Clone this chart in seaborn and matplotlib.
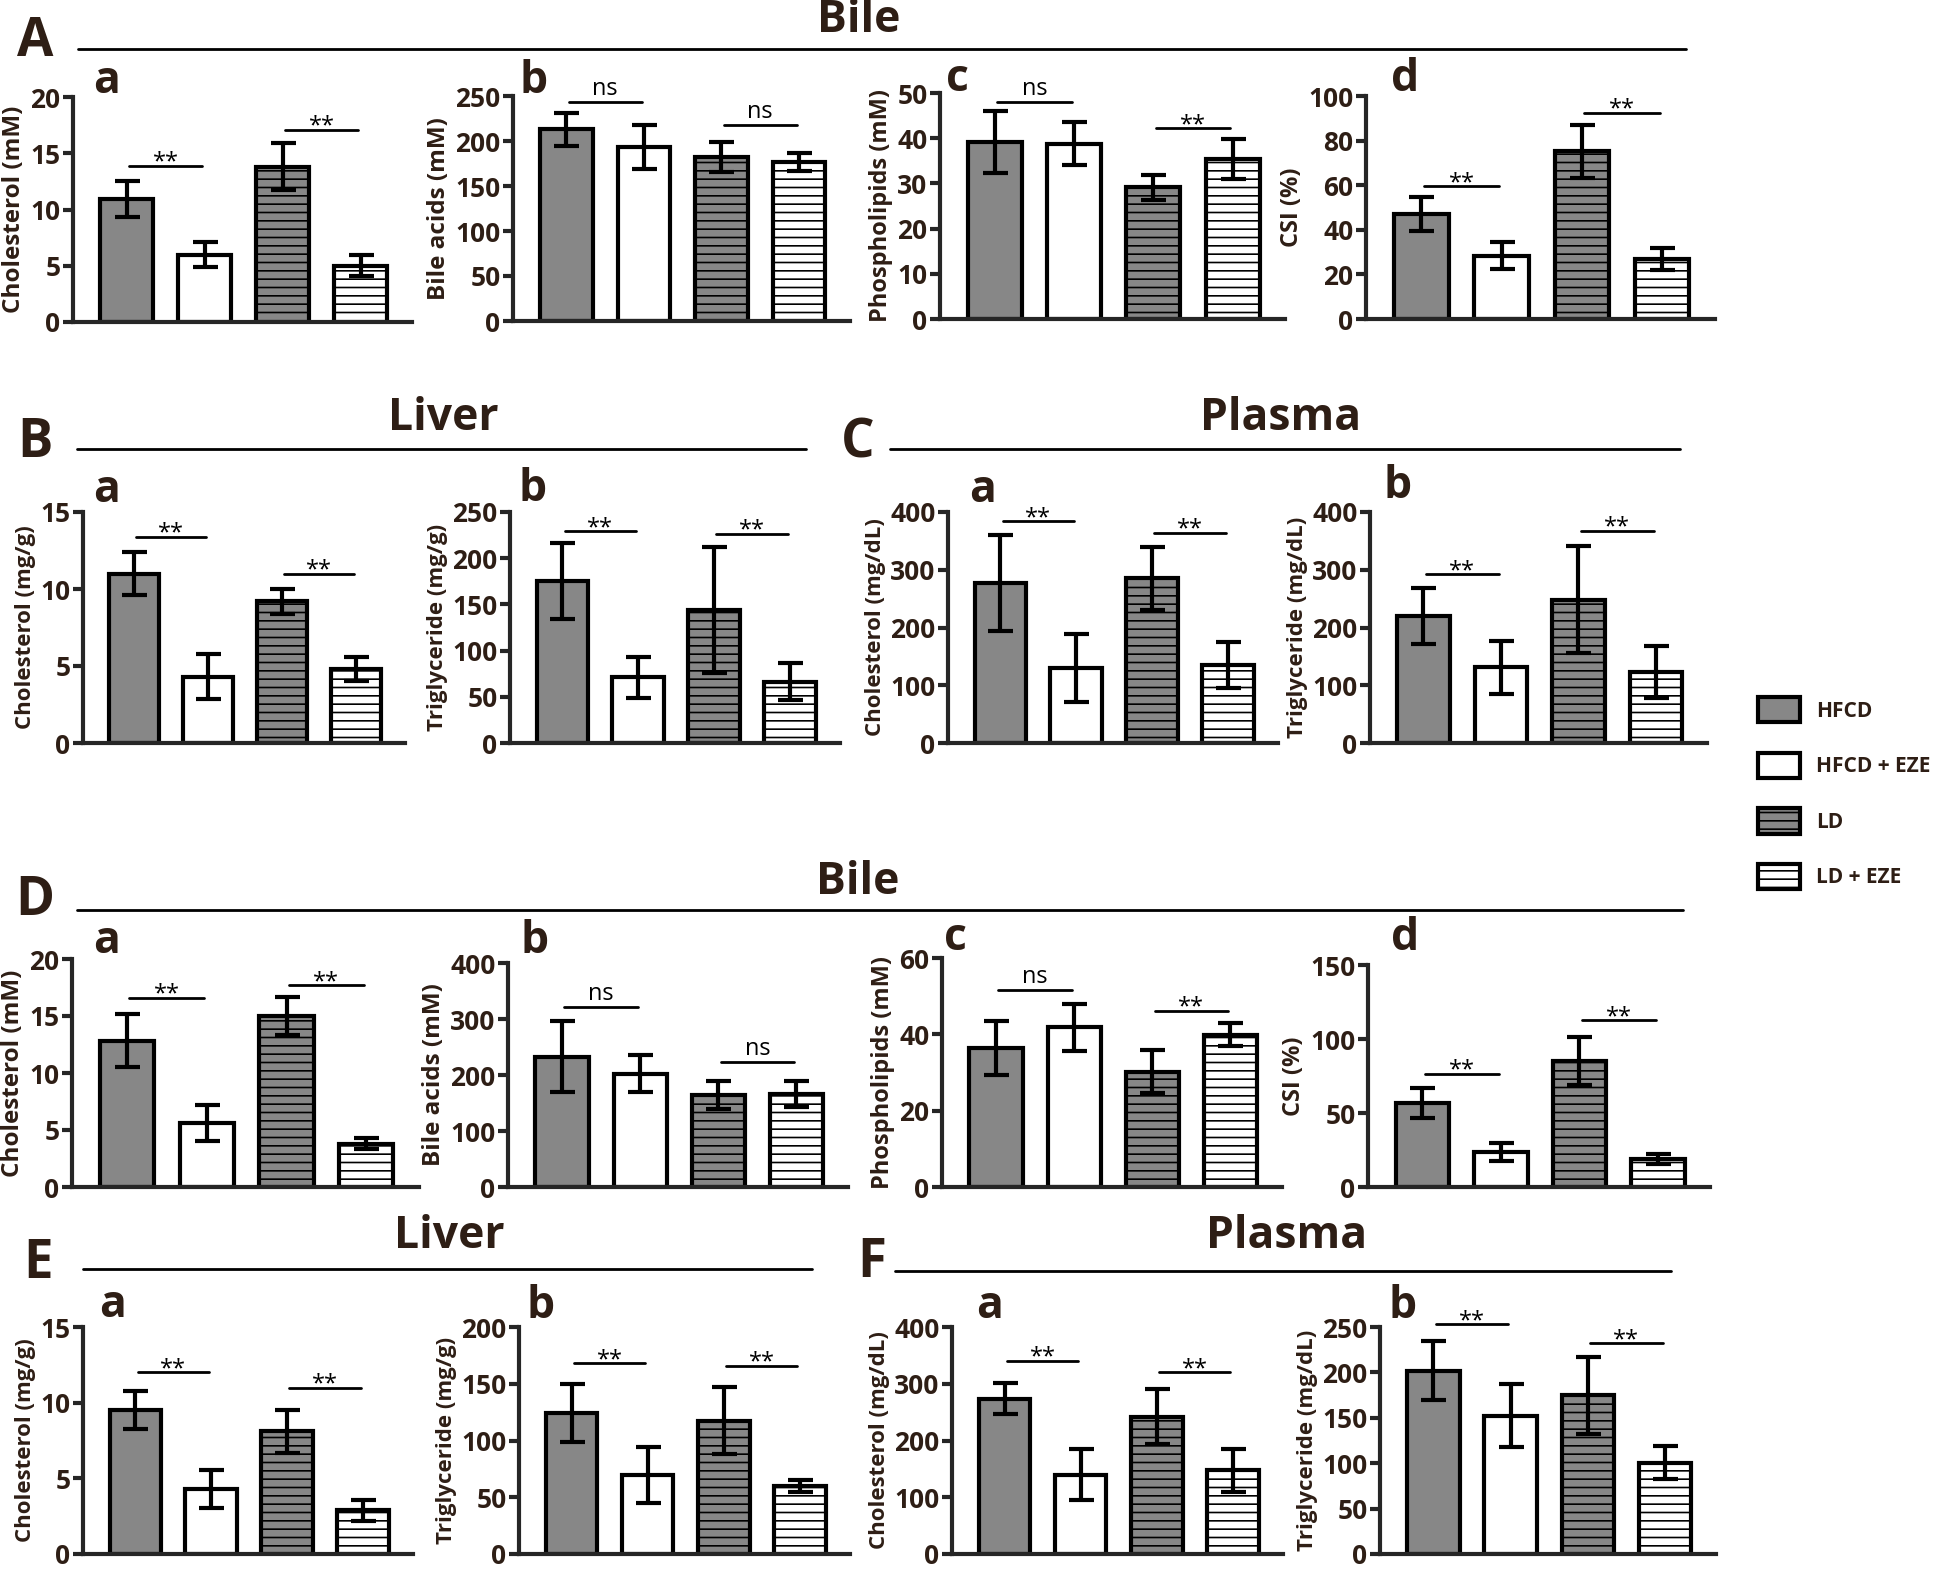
import numpy as np
import pandas as pd
import matplotlib
matplotlib.use('Agg')
import matplotlib.pyplot as plt
from matplotlib.lines import Line2D
from matplotlib.patches import Patch
import seaborn as sns

sns.set_style('ticks')
plt.rcParams['font.family'] = ['Open Sans', 'DejaVu Sans']
plt.rcParams['font.weight'] = 'bold'
plt.rcParams['axes.labelweight'] = 'bold'
plt.rcParams['hatch.linewidth'] = 1.2

BROWN = '#2e1e15'

# groups and their look
groups = ['HFCD', 'HFCD + EZE', 'LD', 'LD + EZE']
colors = ['#878787', '#ffffff', '#878787', '#ffffff']
hatches = ['', '', '--', '--']

# A: bile (first experiment)
a_chol = [10.9, 6.0, 13.8, 5.0]
a_chol_err = [1.6, 1.1, 2.1, 0.95]
a_ba = [213, 193, 182, 177]
a_ba_err = [18.5, 24.5, 16.5, 10]
a_pl = [39.2, 38.8, 29.1, 35.4]
a_pl_err = [6.8, 4.8, 2.85, 4.4]
a_csi = [47, 28.4, 75.2, 27]
a_csi_err = [7.6, 6.2, 11.9, 4.9]
# B: liver
b_chol = [11.0, 4.3, 9.2, 4.8]
b_chol_err = [1.4, 1.45, 0.8, 0.8]
b_tg = [175, 71, 144, 66.5]
b_tg_err = [41, 22.5, 68.5, 20.3]
# C: plasma
c_chol = [277, 130, 285, 135]
c_chol_err = [83.5, 59, 55, 40]
c_tg = [220, 131, 248, 123]
c_tg_err = [49, 46, 93, 44.5]
# D: bile (second experiment)
d_chol = [12.85, 5.6, 15.0, 3.8]
d_chol_err = [2.3, 1.6, 1.7, 0.5]
d_ba = [233, 202, 165, 166]
d_ba_err = [63, 33, 25, 24]
d_pl = [36.4, 41.8, 30.2, 39.9]
d_pl_err = [7, 6.2, 5.6, 3]
d_csi = [56.8, 23.6, 85.4, 18.9]
d_csi_err = [10.1, 5.9, 16.2, 3.2]
# E: liver
e_chol = [9.5, 4.3, 8.1, 2.9]
e_chol_err = [1.25, 1.25, 1.4, 0.7]
e_tg = [124, 69.4, 117.6, 60]
e_tg_err = [25.6, 24.5, 29.5, 5.2]
# F: plasma
f_chol = [274, 140, 242, 147.5]
f_chol_err = [26.7, 45, 48, 38]
f_tg = [202, 152.5, 175, 100.7]
f_tg_err = [32.8, 34.6, 42.5, 17.8]

# significance marks and the height of their bars
a_sig = [['**', '**'], ['ns', 'ns'], ['ns', '**'], ['**', '**']]
a_sig_y = [[13.9, 17.1], [243, 218], [48, 42.2], [59.5, 92.6]]
b_sig_y = [[13.4, 11.0], [229, 226.5]]
c_sig_y = [[384, 363.5], [292, 367]]
d_sig = [['**', '**'], ['ns', 'ns'], ['ns', '**'], ['**', '**']]
d_sig_y = [[16.6, 17.7], [321, 223], [51.6, 46.2], [76.6, 112.6]]
e_sig_y = [[12, 11], [168, 166]]
f_sig_y = [[340, 320], [253, 232]]

W, H = 1944, 1570
fig = plt.figure(figsize=(W / 100, H / 100), dpi=100)


def fx(x):
    return x / W


def fy(y):
    return 1 - y / H


def panel(box, means, errs, ylabel, ymax, step, sig, sig_y, letter, lpos, lsize=16):
    x0, x1, yb, yt = box
    ax = fig.add_axes([fx(x0), fy(yb), (x1 - x0) / W, (yb - yt) / H])
    df = pd.DataFrame({'group': groups, 'value': means})
    sns.barplot(data=df, x='group', y='value', hue='group', order=groups,
                hue_order=groups, palette=dict(zip(groups, colors)),
                saturation=1, width=0.68, edgecolor='black', linewidth=3,
                errorbar=None, legend=False, ax=ax)
    for p, h in zip(ax.patches, hatches):
        p.set_hatch(h)
    ax.errorbar(range(4), means, yerr=errs, fmt='none', ecolor='black',
                elinewidth=3, capsize=9, capthick=3, zorder=5)
    ax.set_xlim(-0.69, 3.66)
    ax.set_ylim(0, ymax)
    ax.set_yticks(np.arange(0, ymax + step / 2, step))
    ax.set_xticks([])
    ax.set_xlabel('')
    ax.set_ylabel(ylabel, fontsize=lsize, fontweight='bold', color=BROWN, labelpad=3)
    sns.despine(ax=ax)
    for s in ['left', 'bottom']:
        ax.spines[s].set_linewidth(3)
    ax.tick_params(axis='y', length=7, width=3, labelsize=19,
                   labelcolor=BROWN, pad=2)
    for i, (lab, y) in enumerate(zip(sig, sig_y)):
        xa = 2 * i
        ax.plot([xa + 0.03, xa + 0.97], [y, y], color='black', lw=2,
                clip_on=False)
        off = -2 if lab == '**' else 5
        ax.annotate(lab, (xa + 0.5, y), xytext=(0, off),
                    textcoords='offset points', ha='center', va='baseline',
                    fontsize=17, fontweight='normal', color='black',
                    annotation_clip=False)
    fig.text(fx(lpos[0]), fy(lpos[1]), letter, fontsize=32, color=BROWN,
             ha='left', va='baseline')
    return ax


bile_labels = ['Cholesterol (mM)', 'Bile acids (mM)', 'Phospholipids (mM)', 'CSI (%)']

# row A
panel((73, 412, 322, 97), a_chol, a_chol_err, bile_labels[0], 20, 5,
      a_sig[0], a_sig_y[0], 'a', (93, 93), 17.5)
panel((513, 850, 321, 96), a_ba, a_ba_err, bile_labels[1], 250, 50,
      a_sig[1], a_sig_y[1], 'b', (519, 93), 17.5)
panel((940, 1285, 319, 93), a_pl, a_pl_err, bile_labels[2], 50, 10,
      a_sig[2], a_sig_y[2], 'c', (946, 91), 17)
panel((1366, 1715, 319, 96), a_csi, a_csi_err, bile_labels[3], 100, 20,
      a_sig[3], a_sig_y[3], 'd', (1391, 91), 17)

# rows B / C
panel((83, 405, 743, 512), b_chol, b_chol_err, 'Cholesterol (mg/g)', 15, 5,
      ['**', '**'], b_sig_y[0], 'a', (93, 502))
panel((510, 840, 743, 512), b_tg, b_tg_err, 'Triglyceride (mg/g)', 250, 50,
      ['**', '**'], b_sig_y[1], 'b', (518, 501))
panel((948, 1278, 743, 512), c_chol, c_chol_err, 'Cholesterol (mg/dL)', 400, 100,
      ['**', '**'], c_sig_y[0], 'a', (969, 502))
panel((1370, 1707, 743, 512), c_tg, c_tg_err, 'Triglyceride (mg/dL)', 400, 100,
      ['**', '**'], c_sig_y[1], 'b', (1383, 498))

# row D
panel((72, 419, 1187, 959), d_chol, d_chol_err, bile_labels[0], 20, 5,
      d_sig[0], d_sig_y[0], 'a', (93, 953), 17.5)
panel((508, 848, 1187, 963), d_ba, d_ba_err, bile_labels[1], 400, 100,
      d_sig[1], d_sig_y[1], 'b', (520, 953), 17.5)
panel((942, 1282, 1187, 958), d_pl, d_pl_err, bile_labels[2], 60, 20,
      d_sig[2], d_sig_y[2], 'c', (944, 950), 17)
panel((1368, 1710, 1187, 965), d_csi, d_csi_err, bile_labels[3], 150, 50,
      d_sig[3], d_sig_y[3], 'd', (1391, 950), 17)

# rows E / F
panel((83, 413, 1554, 1327), e_chol, e_chol_err, 'Cholesterol (mg/g)', 15, 5,
      ['**', '**'], e_sig_y[0], 'a', (99, 1317))
panel((519, 850, 1554, 1327), e_tg, e_tg_err, 'Triglyceride (mg/g)', 200, 50,
      ['**', '**'], e_sig_y[1], 'b', (526, 1318))
panel((952, 1283, 1554, 1327), f_chol, f_chol_err, 'Cholesterol (mg/dL)', 400, 100,
      ['**', '**'], f_sig_y[0], 'a', (976, 1318))
panel((1380, 1716, 1554, 1327), f_tg, f_tg_err, 'Triglyceride (mg/dL)', 250, 50,
      ['**', '**'], f_sig_y[1], 'b', (1389, 1318))

# section headers
headers = [('A', 35, 42, 'Bile', 859, 21, 78, 1686, 49),
           ('B', 35, 443, 'Liver', 443, 418, 77, 806, 449),
           ('C', 858, 443, 'Plasma', 1281, 418, 890, 1680, 449),
           ('D', 35, 901, 'Bile', 858, 882, 77, 1683, 910),
           ('E', 38, 1264, 'Liver', 449, 1237, 83, 812, 1269),
           ('F', 872, 1263, 'Plasma', 1287, 1237, 895, 1671, 1271)]
for let, lx, ly, title, tx, ty, l0, l1, ly2 in headers:
    fig.text(fx(lx), fy(ly), let, fontsize=38, color=BROWN, ha='center', va='center')
    fig.text(fx(tx), fy(ty), title, fontsize=32, color=BROWN, ha='center', va='center')
    fig.add_artist(Line2D([fx(l0), fx(l1)], [fy(ly2), fy(ly2)],
                          transform=fig.transFigure, color='black', lw=2))

handles = [Patch(facecolor=c, edgecolor='black', hatch=h, linewidth=3)
           for c, h in zip(colors, hatches)]
fig.legend(handles, groups, loc='upper left', bbox_to_anchor=(fx(1758), fy(697)),
           frameon=False, prop={'size': 15, 'weight': 'bold'}, labelcolor=BROWN,
           handlelength=2.0, handleheight=1.5, labelspacing=1.45,
           handletextpad=0.8, borderpad=0, borderaxespad=0)

fig.savefig('out.png', dpi=100)
